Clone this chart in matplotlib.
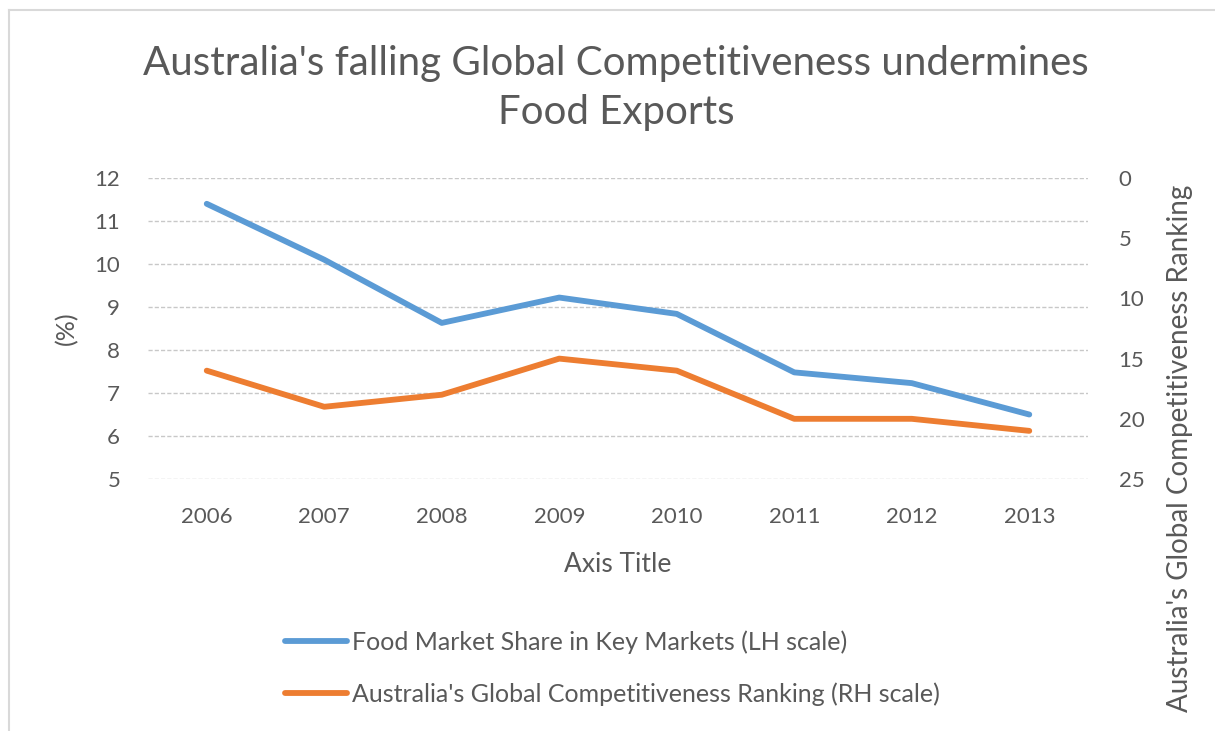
import matplotlib.pyplot as plt
from matplotlib.lines import Line2D

plt.rcParams['font.family'] = ['Lato', 'DejaVu Sans']

years = ["2006", "2007", "2008", "2009", "2010", "2011", "2012", "2013"]
market_share = [11.4, 10.1, 8.63, 9.22, 8.84, 7.48, 7.23, 6.5]
ranking = [16, 19, 18, 15, 16, 20, 20, 21]

grey = "#595959"
blue = "#5B9BD5"
orange = "#ED7D31"

fig = plt.figure(figsize=(12.15, 7.31), dpi=100)
ax = fig.add_axes([0.1218, 0.3447, 0.7737, 0.4118])
ax2 = ax.twinx()

x = range(len(years))
l1, = ax.plot(x, market_share, color=blue, lw=4.2, solid_capstyle="round",
              label="Food Market Share in Key Markets (LH scale)")
l2, = ax2.plot(x, ranking, color=orange, lw=4.2, solid_capstyle="round",
               label="Australia's Global Competitiveness Ranking (RH scale)")

ax.set_xlim(-0.5, len(years) - 0.5)
ax.set_ylim(5, 12)
ax.set_yticks(range(5, 13))
ax2.set_ylim(25, 0)
ax2.set_yticks(range(0, 30, 5))
ax.set_xticks(list(x))
ax.set_xticklabels(years)

ax.grid(axis="y", color="#c8c8c8", lw=1, ls=(0, (3, 1.5)))
ax.set_axisbelow(True)
for a in (ax, ax2):
    for s in a.spines.values():
        s.set_visible(False)
    a.tick_params(length=0, labelsize=16, colors=grey)
ax.tick_params(axis="y", pad=20)
ax.tick_params(axis="x", pad=20)
ax2.tick_params(axis="y", pad=22)

ax.set_ylabel("(%)", fontsize=18, color=grey, labelpad=12)
ax.set_xlabel("Axis Title", fontsize=19, color=grey, labelpad=18)

fig.text(1180 / 1215, 1 - 185 / 731, "Australia's Global Competitiveness Ranking",
         rotation=90, ha="center", va="top", fontsize=20, color=grey)

fig.text(616 / 1215, 1 - 88 / 731,
         "Australia's falling Global Competitiveness undermines\nFood Exports",
         ha="center", va="center", fontsize=29, color=grey, linespacing=1.38)

fig.legend(handles=[l1, l2], loc="center left", bbox_to_anchor=(272 / 1215, 1 - 668 / 731),
           ncol=1, frameon=False, fontsize=18, labelcolor=grey, borderpad=0,
           handlelength=2.5, handletextpad=0.2, labelspacing=1.15)

# light chart border (left and top only visible)
fig.add_artist(Line2D([9 / 1215, 9 / 1215], [0, 1 - 10 / 731], color="#d9d9d9", lw=1.5))
fig.add_artist(Line2D([9 / 1215, 1], [1 - 10 / 731, 1 - 10 / 731], color="#d9d9d9", lw=1.5))

fig.savefig("out.png", dpi=100)
